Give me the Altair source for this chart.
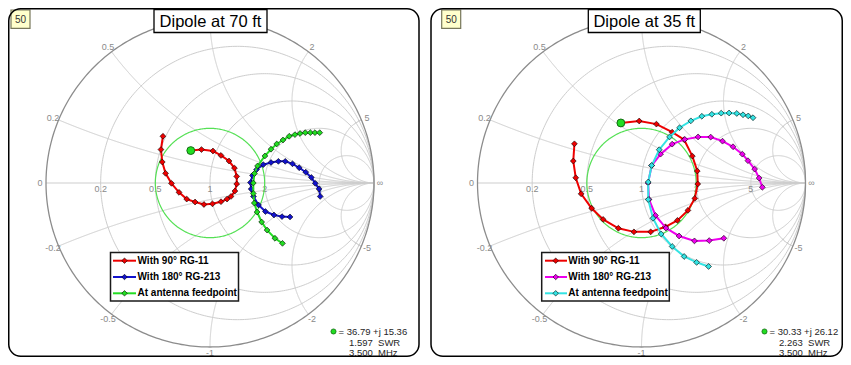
import numpy as np
import pandas as pd
import altair as alt

FONT = "Liberation Sans"

# ---------------- chart values ----------------
Z0 = 50.0
RESISTANCE_CIRCLES = [0.2, 0.5, 1, 2, 5]
REACTANCE_ARCS = [0.2, 0.5, 1, 2, 5, -0.2, -0.5, -1, -2, -5]
SWR_REFERENCE = 2.0

panel_titles = ["Dipole at 70 ft", "Dipole at 35 ft"]
panel_tags = ["50", "50"]
series_names = ["With 90° RG-11", "With 180° RG-213", "At antenna feedpoint"]
series_colors = [
    ["#ee0000", "#1212cc", "#22dd22"],
    ["#ee0000", "#ee00ee", "#33e3e3"],
]

rg11_70_re = [-0.117, -0.052, 0.018, 0.067, 0.116, 0.149, 0.163, 0.163, 0.152, 0.128, 0.104,
              0.067, 0.015, -0.037, -0.091, -0.142, -0.189, -0.235, -0.271, -0.291, -0.299, -0.287]
rg11_70_im = [0.198, 0.204, 0.195, 0.168, 0.134, 0.091, 0.040, -0.006, -0.049, -0.082, -0.098,
              -0.114, -0.127, -0.131, -0.116, -0.098, -0.057, -0.002, 0.059, 0.128, 0.204, 0.285]
rg213_70_re = [0.488, 0.439, 0.390, 0.338, 0.296, 0.265, 0.251, 0.247, 0.259, 0.284, 0.325,
               0.372, 0.417, 0.459, 0.503, 0.544, 0.584, 0.618, 0.642, 0.665, 0.672]
rg213_70_im = [-0.207, -0.205, -0.195, -0.174, -0.134, -0.082, -0.037, 0.003, 0.046, 0.082, 0.112,
               0.125, 0.132, 0.132, 0.117, 0.093, 0.066, 0.034, -0.002, -0.036, -0.082]
feed_70_re = [0.442, 0.396, 0.348, 0.315, 0.287, 0.270, 0.264, 0.264, 0.271, 0.290, 0.335,
              0.372, 0.407, 0.445, 0.483, 0.518, 0.549, 0.581, 0.612, 0.640, 0.669]
feed_70_im = [-0.368, -0.337, -0.287, -0.238, -0.177, -0.122, -0.064, 0.000, 0.058, 0.104, 0.165,
              0.206, 0.238, 0.262, 0.285, 0.295, 0.302, 0.307, 0.307, 0.307, 0.307]

rg11_35_re = [-0.126, -0.014, 0.091, 0.187, 0.260, 0.310, 0.340, 0.343, 0.325, 0.283, 0.219,
              0.146, 0.056, -0.046, -0.141, -0.234, -0.304, -0.368, -0.401, -0.416, -0.409]
rg11_35_im = [0.366, 0.378, 0.359, 0.310, 0.264, 0.164, 0.073, -0.006, -0.094, -0.167, -0.228,
              -0.267, -0.298, -0.298, -0.276, -0.222, -0.154, -0.066, 0.032, 0.134, 0.239]
rg213_35_re = [0.502, 0.413, 0.323, 0.229, 0.149, 0.085, 0.046, 0.040, 0.062, 0.116, 0.187,
               0.264, 0.345, 0.422, 0.494, 0.558, 0.615, 0.649, 0.690, 0.717, 0.737]
rg213_35_im = [-0.337, -0.351, -0.353, -0.323, -0.275, -0.198, -0.100, 0.000, 0.106, 0.176, 0.237,
               0.266, 0.281, 0.280, 0.255, 0.221, 0.176, 0.136, 0.085, 0.030, -0.026]
feed_35_re = [0.409, 0.336, 0.260, 0.187, 0.120, 0.070, 0.041, 0.041, 0.062, 0.108, 0.171,
              0.232, 0.301, 0.368, 0.429, 0.486, 0.534, 0.581, 0.619, 0.651, 0.680]
feed_35_im = [-0.509, -0.484, -0.448, -0.387, -0.311, -0.215, -0.101, 0.006, 0.107, 0.203, 0.281,
              0.337, 0.379, 0.407, 0.419, 0.426, 0.427, 0.424, 0.416, 0.409, 0.398]

panel_series = [
    [(rg11_70_re, rg11_70_im), (rg213_70_re, rg213_70_im), (feed_70_re, feed_70_im)],
    [(rg11_35_re, rg11_35_im), (rg213_35_re, rg213_35_im), (feed_35_re, feed_35_im)],
]

marker_r_ohm = [36.79, 30.33]
marker_x_ohm = [15.36, 26.12]
marker_swr = [1.597, 2.263]
marker_mhz = [3.500, 3.500]

# ---------------- layout ----------------
W, H = 835, 349
RPX = 164.0                 # pixels per unit of reflection coefficient
CX = [202.0, 633.5]         # chart centres (view pixels)
CY = 175.0
x_dom = [-CX[0] / RPX, (W - CX[0]) / RPX]
y_dom = [(CY - H) / RPX, CY / RPX]
offsets = [(c - CX[0]) / RPX for c in CX]
LABEL_OUT = 1 + 6 / RPX
HIDDEN_RIM_LABELS = [1]     # the +j1 label sits under the title box

LAYOUT = [
    dict(border=(0.75, 411, 0.75, 348.25), title_box=(146, 259, 1.5, 24.5), title_xy=(202.5, 13.5),
         tag_box=(3, 22, 2, 20.3), tag_xy=(12.5, 11.5),
         legend_box=(102.5, 230.5, 244.5, 293), legend_line=(105, 128), legend_mark=116.5,
         legend_text=129.5, legend_rows=[252.7, 269, 285.3],
         info_dot=(325.5, 323.5), info_x=[330.5, 341, 341], info_rows=[323.5, 334.8, 345.3]),
    dict(border=(423, 834.25, 0.75, 348.25), title_box=(580.3, 692.3, 1.5, 24.5), title_xy=(636.3, 13.5),
         tag_box=(433.7, 452.7, 2, 20.3), tag_xy=(443.2, 11.5),
         legend_box=(533.7, 661.3, 244.5, 293), legend_line=(537, 559), legend_mark=547.7,
         legend_text=560.3, legend_rows=[252.7, 269, 285.3],
         info_dot=(756.5, 323.5), info_x=[761.5, 771, 771], info_rows=[323.5, 334.8, 345.3]),
]

XS = alt.Scale(domain=x_dom, nice=False, zero=False)
YS = alt.Scale(domain=y_dom, nice=False, zero=False)


def X():
    return alt.X("gx:Q", scale=XS, axis=None)


def Y():
    return alt.Y("gy:Q", scale=YS, axis=None)


ONE = pd.DataFrame({"one": [1]})


def box(x0, x1, y0, y1, **kw):
    return alt.Chart(ONE).mark_rect(**kw).encode(
        x=alt.value(x0), x2=alt.value(x1), y=alt.value(y0), y2=alt.value(y1))


def label(text, x, y, **kw):
    return alt.Chart(pd.DataFrame({"t": [text]})).mark_text(font=FONT, **kw).encode(
        x=alt.value(x), y=alt.value(y), text="t:N")


def smith_grid(off):
    rows = []
    th = np.linspace(0, 2 * np.pi, 361)
    for r in RESISTANCE_CIRCLES:
        c, rho = r / (1 + r), 1 / (1 + r)
        for k, t in enumerate(th):
            rows.append((f"r{r}", k, c + rho * np.cos(t) + off, rho * np.sin(t)))
    phi = np.linspace(0, np.pi / 2, 600, endpoint=False)
    res = np.tan(phi)
    for xv in REACTANCE_ARCS:
        z = res + 1j * xv
        g = np.append((z - 1) / (z + 1), 1 + 0j)
        for k, v in enumerate(g):
            rows.append((f"x{xv}", k, v.real + off, v.imag))
    rows += [("axis", 0, -1 + off, 0.0), ("axis", 1, 1 + off, 0.0)]
    return pd.DataFrame(rows, columns=["gid", "k", "gx", "gy"])


def circle_df(radius, off):
    th = np.linspace(0, 2 * np.pi, 361)
    return pd.DataFrame({"k": np.arange(len(th)), "gx": radius * np.cos(th) + off,
                         "gy": radius * np.sin(th)})


layers = []
for p in range(2):
    off = offsets[p]
    L = LAYOUT[p]
    colors = series_colors[p]

    # grid
    layers.append(alt.Chart(smith_grid(off)).mark_line(color="#cdcdcd", strokeWidth=1).encode(
        x=X(), y=Y(), detail="gid:N", order="k:Q"))
    layers.append(alt.Chart(circle_df(1.0, off)).mark_line(color="#8c8c8c", strokeWidth=1.3).encode(
        x=X(), y=Y(), order="k:Q"))

    # rim labels
    rim = []
    for xv in REACTANCE_ARCS:
        if xv in HIDDEN_RIM_LABELS:
            continue
        g = (1j * xv - 1) / (1j * xv + 1) * LABEL_OUT
        rim.append((f"{xv:g}", g.real + off, g.imag))
    rim.append(("0", -LABEL_OUT + off, 0.0))
    rim.append(("∞", LABEL_OUT + off, 0.0))
    layers.append(alt.Chart(pd.DataFrame(rim, columns=["lab", "gx", "gy"])).mark_text(
        font=FONT, fontSize=9, color="#8a8a8a").encode(x=X(), y=Y(), text="lab:N"))
    rl = pd.DataFrame({"lab": [f"{r:g}" for r in RESISTANCE_CIRCLES],
                       "gx": [(r - 1) / (r + 1) + off for r in RESISTANCE_CIRCLES],
                       "gy": [0.0] * len(RESISTANCE_CIRCLES)})
    layers.append(alt.Chart(rl).mark_text(font=FONT, fontSize=9, color="#8a8a8a", baseline="top",
                                          dy=1.5).encode(x=X(), y=Y(), text="lab:N"))

    # SWR 2:1 circle
    gmag = (SWR_REFERENCE - 1) / (SWR_REFERENCE + 1)
    layers.append(alt.Chart(circle_df(gmag, off)).mark_line(color="#55e055", strokeWidth=1.2).encode(
        x=X(), y=Y(), order="k:Q"))

    # series
    for (re, im), col in zip(panel_series[p], colors):
        df = pd.DataFrame({"k": np.arange(len(re)), "gx": np.array(re) + off, "gy": im})
        layers.append(alt.Chart(df).mark_line(color=col, strokeWidth=2).encode(
            x=X(), y=Y(), order="k:Q"))
        layers.append(alt.Chart(df).mark_point(shape="diamond", filled=True, fill=col, stroke="black",
                                               strokeWidth=0.6, size=34, opacity=1).encode(x=X(), y=Y()))

    # marker point
    z = (marker_r_ohm[p] + 1j * marker_x_ohm[p]) / Z0
    g = (z - 1) / (z + 1)
    mk = pd.DataFrame({"gx": [g.real + off], "gy": [g.imag]})
    layers.append(alt.Chart(mk).mark_point(shape="circle", filled=True, fill="#22dd22", stroke="#136b13",
                                           strokeWidth=1, size=62, opacity=1).encode(x=X(), y=Y()))

    # legend
    bx = L["legend_box"]
    layers.append(box(*bx, fill="white", stroke="#1a1a1a", strokeWidth=1.5))
    for i, (name, col) in enumerate(zip(series_names, colors)):
        yy = L["legend_rows"][i]
        layers.append(alt.Chart(ONE).mark_rule(color=col, strokeWidth=2).encode(
            x=alt.value(L["legend_line"][0]), x2=alt.value(L["legend_line"][1]), y=alt.value(yy)))
        layers.append(alt.Chart(ONE).mark_point(shape="diamond", filled=True, fill=col, stroke="black",
                                                strokeWidth=0.6, size=30, opacity=1).encode(
            x=alt.value(L["legend_mark"]), y=alt.value(yy)))
        layers.append(label(name, L["legend_text"], yy, align="left", baseline="middle",
                            fontSize=10, fontWeight="bold", color="black"))

    # marker readout
    layers.append(alt.Chart(ONE).mark_point(shape="circle", filled=True, fill="#22dd22", stroke="#136b13",
                                            strokeWidth=0.8, size=26, opacity=1).encode(
        x=alt.value(L["info_dot"][0]), y=alt.value(L["info_dot"][1])))
    info_lines = [f"= {marker_r_ohm[p]:.2f} +j {marker_x_ohm[p]:.2f}",
                  f"{marker_swr[p]:.3f}\u00a0 SWR",
                  f"{marker_mhz[p]:.3f}\u00a0 MHz"]
    for txt, xx, yy in zip(info_lines, L["info_x"], L["info_rows"]):
        layers.append(label(txt, xx, yy, align="left", baseline="middle", fontSize=9.5, color="#262626"))

    # title
    layers.append(box(*L["title_box"], fill="white", stroke="black", strokeWidth=1.3))
    layers.append(label(panel_titles[p], L["title_xy"][0], L["title_xy"][1], align="center",
                        baseline="middle", fontSize=16.5, color="black"))
    # tag
    layers.append(box(*L["tag_box"], fill="#ffffcc", stroke="#77775a", strokeWidth=1.2))
    layers.append(label(panel_tags[p], L["tag_xy"][0], L["tag_xy"][1], align="center",
                        baseline="middle", fontSize=10, color="#333333"))
    # panel border
    layers.append(box(*L["border"], fillOpacity=0, stroke="black", strokeWidth=1.5, cornerRadius=12))

chart = alt.layer(*layers).properties(
    width=W, height=H, padding=0, autosize=alt.AutoSizeParams(type="none")
).configure(background="white").configure_view(stroke=None)

chart.save("out.html", embed_options={"renderer": "svg", "actions": False})
